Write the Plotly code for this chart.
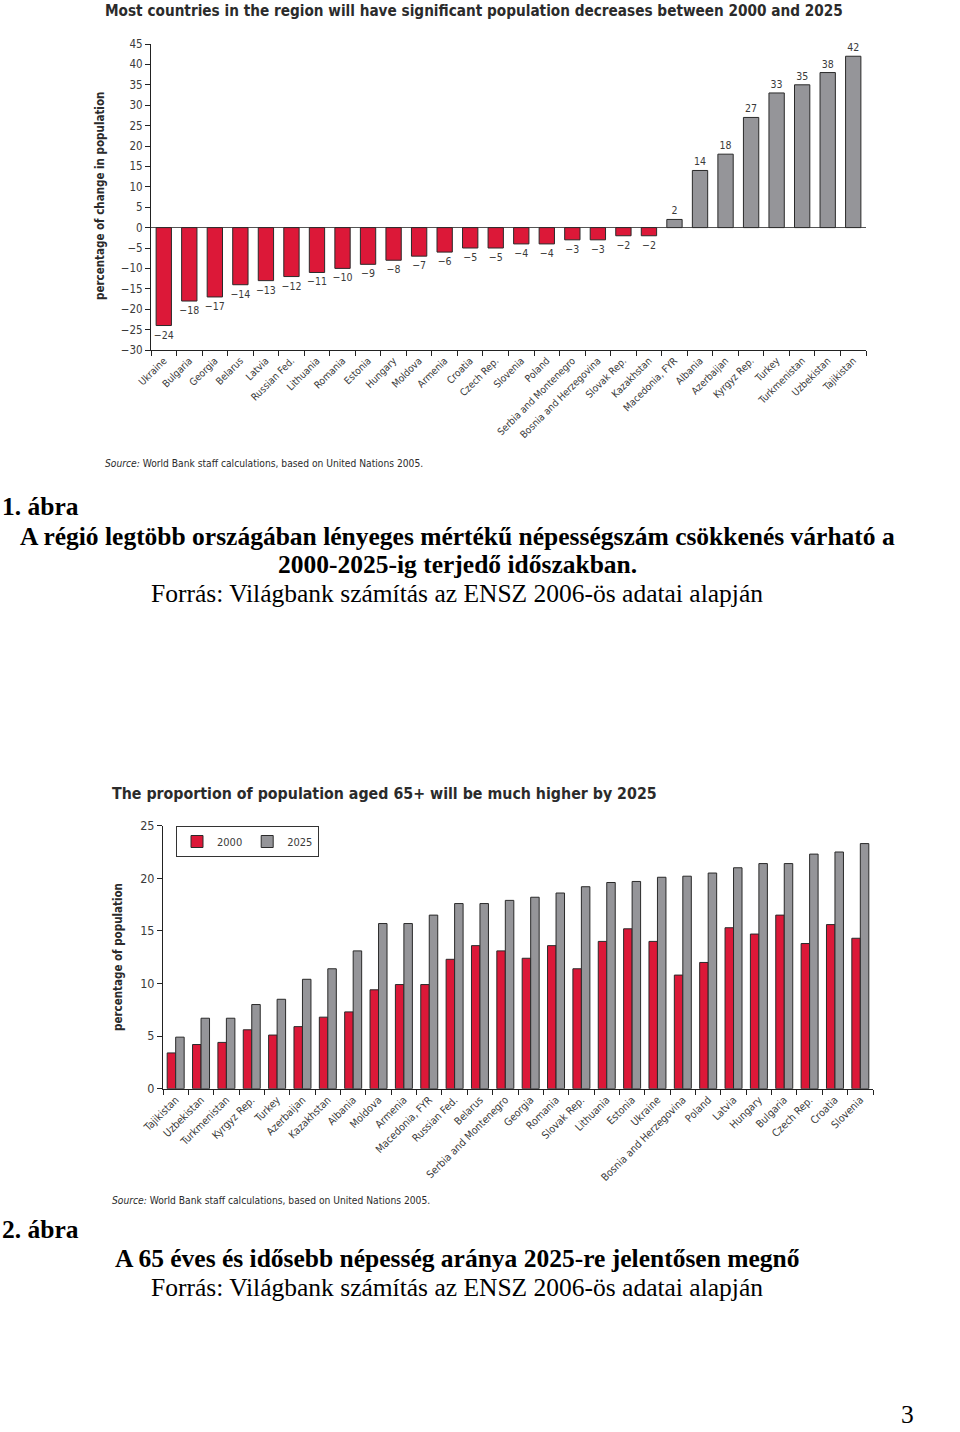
import plotly.graph_objects as go

W, H = 960, 1432

# ---------------- data ----------------
countries1 = ["Ukraine", "Bulgaria", "Georgia", "Belarus", "Latvia", "Russian Fed.", "Lithuania",
              "Romania", "Estonia", "Hungary", "Moldova", "Armenia", "Croatia", "Czech Rep.",
              "Slovenia", "Poland", "Serbia and Montenegro", "Bosnia and Herzegovina", "Slovak Rep.",
              "Kazakhstan", "Macedonia, FYR", "Albania", "Azerbaijan", "Kyrgyz Rep.", "Turkey",
              "Turkmenistan", "Uzbekistan", "Tajikistan"]
change = [-24, -18, -17, -14, -13, -12, -11, -10, -9, -8, -7, -6, -5, -5,
          -4, -4, -3, -3, -2, -2, 2, 14, 18, 27, 33, 35, 38, 42]

countries2 = ["Tajikistan", "Uzbekistan", "Turkmenistan", "Kyrgyz Rep.", "Turkey", "Azerbaijan",
              "Kazakhstan", "Albania", "Moldova", "Armenia", "Macedonia, FYR", "Russian Fed.",
              "Belarus", "Serbia and Montenegro", "Georgia", "Romania", "Slovak Rep.", "Lithuania",
              "Estonia", "Ukraine", "Bosnia and Herzegovina", "Poland", "Latvia", "Hungary",
              "Bulgaria", "Czech Rep.", "Croatia", "Slovenia"]
share2000 = [3.4, 4.2, 4.4, 5.6, 5.1, 5.9, 6.8, 7.3, 9.4, 9.9, 9.9, 12.3, 13.6, 13.1,
             12.4, 13.6, 11.4, 14.0, 15.2, 14.0, 10.8, 12.0, 15.3, 14.7, 16.5, 13.8, 15.6, 14.3]
share2025 = [4.9, 6.7, 6.7, 8.0, 8.5, 10.4, 11.4, 13.1, 15.7, 15.7, 16.5, 17.6, 17.6, 17.9,
             18.2, 18.6, 19.2, 19.6, 19.7, 20.1, 20.2, 20.5, 21.0, 21.4, 21.4, 22.3, 22.5, 23.3]

y1_ticks = list(range(-30, 50, 5))
y2_ticks = list(range(0, 30, 5))

# ---------------- style ----------------
RED = "#DC1838"
GREY = "#959599"
EDGE = "#2a2a2a"
TXT = "#3a3a3a"
NARROW = "DejaVu Sans Condensed, Liberation Sans Narrow, Arial Narrow, sans-serif"
SERIF = "Liberation Serif, Times New Roman, serif"


def px(x):
    return x / W


def py(y):
    return 1 - y / H


def fmt(v):
    return ("\u2212" + str(abs(v))) if v < 0 else str(v)


fig = go.Figure()

fig.add_trace(go.Bar(
    x=countries1, y=change, xaxis="x", yaxis="y",
    marker=dict(color=[RED if v < 0 else GREY for v in change],
                line=dict(color=EDGE, width=1)),
    width=0.6,
    text=[fmt(v) for v in change], textposition="outside", constraintext="none",
    textfont=dict(family=NARROW, size=10.5, color=TXT),
    cliponaxis=False, showlegend=False,
))

fig.add_trace(go.Bar(
    x=countries2, y=share2000, xaxis="x2", yaxis="y2", name="2000",
    marker=dict(color=RED, line=dict(color=EDGE, width=1)),
))
fig.add_trace(go.Bar(
    x=countries2, y=share2025, xaxis="x2", yaxis="y2", name="2025",
    marker=dict(color=GREY, line=dict(color=EDGE, width=1)),
))

axis_common = dict(showgrid=False, showline=True, linecolor="#222", linewidth=1,
                   ticks="outside", tickcolor="#222", ticklen=5, automargin=False)

fig.update_layout(
    width=W, height=H,
    margin=dict(l=0, r=0, t=0, b=0, autoexpand=False),
    paper_bgcolor="white", plot_bgcolor="white",
    barmode="group", bargap=0.33, bargroupgap=0,
    xaxis=dict(domain=[px(151), px(866)], anchor="y", type="category",
               tickson="boundaries", tickangle=-45,
               tickfont=dict(family=NARROW, size=10, color=TXT), **axis_common),
    yaxis=dict(domain=[py(350), py(44)], anchor="x", range=[-30, 45],
               tickvals=y1_ticks, zeroline=True, zerolinecolor="#555", zerolinewidth=1,
               tickfont=dict(family=NARROW, size=11.5, color=TXT), **axis_common),
    xaxis2=dict(domain=[px(163), px(873)], anchor="y2", type="category",
                tickson="boundaries", tickangle=-45,
                tickfont=dict(family=NARROW, size=10.5, color=TXT), **axis_common),
    yaxis2=dict(domain=[py(1088.7), py(825.7)], anchor="x2", range=[0, 25],
                tickvals=y2_ticks, zeroline=False,
                tickfont=dict(family=NARROW, size=12.5, color=TXT), **axis_common),
    legend=dict(x=px(176), y=py(826), xanchor="left", yanchor="top",
                orientation="h", bordercolor="#333", borderwidth=1, bgcolor="white",
                font=dict(family=NARROW, size=11, color=TXT),
                itemwidth=30, tracegroupgap=0),
)

ann = []


def add(text, x, y, size, family, xanchor="left", bold=False, color="black", angle=0):
    t = "<b>%s</b>" % text if bold else text
    ann.append(dict(text=t, x=px(x), y=py(y), xref="paper", yref="paper",
                    xanchor=xanchor, yanchor="middle", showarrow=False,
                    textangle=angle, font=dict(family=family, size=size, color=color)))


# chart 1 texts
add("Most countries in the region will have significant population decreases between 2000 and 2025",
    103, 11, 15.2, NARROW, bold=True, color="#2b2b2b")
add("percentage of change in population", 100, 196, 11.5, NARROW, xanchor="center",
    bold=True, color="#2b2b2b", angle=-90)
add("<i>Source:</i> World Bank staff calculations, based on United Nations 2005.",
    103, 463, 10.2, NARROW, color="#2b2b2b")

# chart 2 texts
add("The proportion of population aged 65+ will be much higher by 2025",
    110, 793, 15.8, NARROW, bold=True, color="#2b2b2b")
add("percentage of population", 118, 957, 11.5, NARROW, xanchor="center",
    bold=True, color="#2b2b2b", angle=-90)
add("<i>Source:</i> World Bank staff calculations, based on United Nations 2005.",
    110, 1200, 10.2, NARROW, color="#2b2b2b")

# document captions
CAP = 25.5
add("1. ábra", 0, 506, CAP, SERIF, bold=True)
add("A régió legtöbb országában lényeges mértékű népességszám csökkenés várható a",
    457, 536, CAP, SERIF, xanchor="center", bold=True)
add("2000-2025-ig terjedő időszakban.", 457, 565, CAP, SERIF, xanchor="center", bold=True)
add("Forrás: Világbank számítás az ENSZ 2006-ös adatai alapján", 457, 593, CAP, SERIF,
    xanchor="center")
add("2. ábra", 0, 1229, CAP, SERIF, bold=True)
add("A 65 éves és idősebb népesség aránya 2025-re jelentősen megnő",
    457, 1258, CAP, SERIF, xanchor="center", bold=True)
add("Forrás: Világbank számítás az ENSZ 2006-ös adatai alapján", 457, 1287, CAP, SERIF,
    xanchor="center")
add("3", 907, 1414, CAP, SERIF, xanchor="center")

fig.update_layout(annotations=ann)

fig.write_html("out.html", config={"displayModeBar": False},
               post_script="document.body.style.margin='0';document.body.style.overflow='hidden';")
